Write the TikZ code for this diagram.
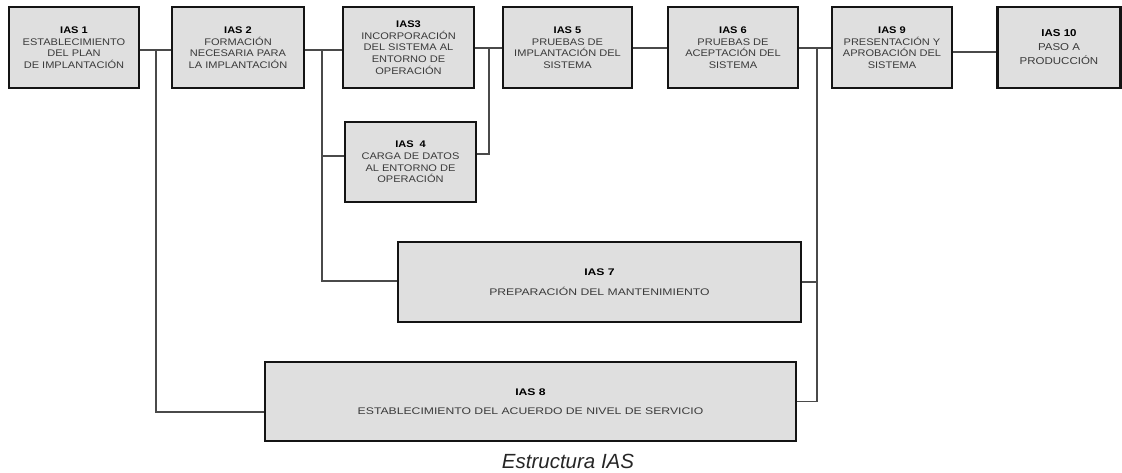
\documentclass[tikz,border=0pt]{standalone}
\usepackage{fontspec}
\usetikzlibrary{calc}
\setmainfont{Liberation Sans}
\newfontfamily\boxfont[FakeStretch=1.15]{Liberation Sans}
\newfontfamily\widefont[FakeStretch=1.27]{Liberation Sans}
\definecolor{boxfill}{HTML}{DFDFDF}
\definecolor{boxline}{HTML}{141414}
\definecolor{linkline}{HTML}{4A4A4A}
\definecolor{boxtext}{HTML}{3A3A3A}
\tikzset{
  task/.style={draw=boxline, fill=boxfill, line width=2.1pt, inner sep=0pt,
    align=center, text=boxtext,
    font=\boxfont\fontsize{9.6}{11.6}\selectfont},
  widetask/.style={task, font=\widefont\fontsize{9.6}{11.6}\selectfont},
  link/.style={draw=linkline, line width=1.1pt},
}
\newcommand{\ias}[1]{\textbf{\color{black}#1}}
\begin{document}
\begin{tikzpicture}[x=1pt,y=-1pt]
\useasboundingbox (0,0) rectangle (1122,472);

% main row of activities
\node[task, minimum width=130, minimum height=81] (b1) at (74,47.5)
  {\ias{IAS 1}\\ESTABLECIMIENTO\\DEL PLAN\\DE IMPLANTACIÓN};
\node[task, minimum width=132, minimum height=81] (b2) at (238,47.5)
  {\ias{IAS 2}\\FORMACIÓN\\NECESARIA PARA\\LA IMPLANTACIÓN};
\node[task, minimum width=131, minimum height=81] (b3) at (408.5,47.5)
  {\ias{IAS3}\\INCORPORACIÓN\\DEL SISTEMA AL\\ENTORNO DE\\OPERACIÓN};
\node[task, minimum width=129, minimum height=81] (b5) at (567.5,47.5)
  {\ias{IAS 5}\\PRUEBAS DE\\IMPLANTACIÓN DEL\\SISTEMA};
\node[task, minimum width=130, minimum height=81] (b6) at (733,47.5)
  {\ias{IAS 6}\\PRUEBAS DE\\ACEPTACIÓN DEL\\SISTEMA};
\node[task, minimum width=120, minimum height=81] (b9) at (892,47.5)
  {\ias{IAS 9}\\PRESENTACIÓN Y\\APROBACIÓN DEL\\SISTEMA};
\node[task, minimum width=123, minimum height=81, font=\boxfont\fontsize{10}{14}\selectfont]
  (b10) at (1059,47.5)
  {\ias{IAS 10}\\PASO A\\PRODUCCIÓN};

% parallel activities
\node[task, minimum width=131, minimum height=80] (b4) at (410.5,162)
  {\ias{IAS\hspace{0.6em}4}\\CARGA DE DATOS\\AL ENTORNO DE\\OPERACIÓN};
\node[widetask, minimum width=403, minimum height=80] (b7) at (599.5,282)
  {\ias{IAS 7}\\[8pt]PREPARACIÓN DEL MANTENIMIENTO};
\node[widetask, minimum width=531, minimum height=79] (b8) at (530.5,401.5)
  {\ias{IAS 8}\\[8pt]ESTABLECIMIENTO DEL ACUERDO DE NIVEL DE SERVICIO};

% junction points of the connectors
\coordinate (j1) at (156,50);
\coordinate (j2) at (322,50);
\coordinate (j3) at (489,48);
\coordinate (j6) at (817,48);
\coordinate (j9) at (952,52);

% main row connectors
\draw[link] (b1.east |- j1) -- (b2.west |- j1);
\draw[link] (b2.east |- j2) -- (b3.west |- j2);
\draw[link] (b3.east |- j3) -- (b5.west |- j3);
\draw[link] (b5.east |- j3) -- (b6.west |- j3);
\draw[link] (b6.east |- j6) -- (b9.west |- j6);
\draw[link] (b9.east |- j9) -- (b10.west |- j9);

% branches
\draw[link] (j1) |- ($(b8.west)+(0,10.5)$);
\draw[link] (j2) |- ($(b7.west)+(0,-1)$);
\draw[link] (j2 |- 0,156) -- (b4.west |- 0,156);
\draw[link] (j3) |- ($(b4.east)+(0,-8)$);
\draw[link] (j6) |- (b8.east);
\draw[link] (j6 |- b7.east) -- (b7.east);

% caption
\node[anchor=base, font=\itshape\fontsize{20.5}{24}\selectfont, text=black!85]
  (cap) at (568,468) {Estructura IAS};
\end{tikzpicture}
\end{document}
